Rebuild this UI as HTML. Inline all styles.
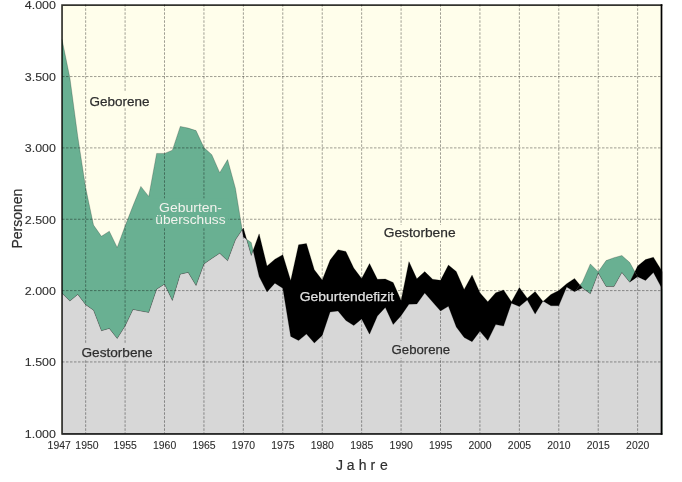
<!DOCTYPE html>
<html><head><meta charset="utf-8">
<style>
html,body{margin:0;padding:0;background:#fff;width:682px;height:482px;overflow:hidden}
svg{display:block;will-change:transform}
text{font-family:"Liberation Sans",sans-serif}
</style></head>
<body>
<svg width="682" height="482" viewBox="0 0 682 482">
<defs>
<clipPath id="plot"><rect x="61.0" y="4.3" width="601.50" height="430.50"/></clipPath>
<clipPath id="underD"><polygon points="62.00,293.30 69.89,301.10 77.77,294.40 85.66,304.70 93.54,310.30 101.43,330.80 109.31,328.40 117.20,338.60 125.08,326.10 132.97,309.50 140.86,311.10 148.74,312.40 156.63,289.20 164.51,284.20 172.40,300.60 180.28,274.20 188.17,272.40 196.05,285.60 203.94,264.00 211.82,258.50 219.71,253.30 227.60,260.80 235.48,239.80 243.37,228.00 251.25,255.50 259.14,233.80 267.02,266.00 274.91,259.20 282.79,254.70 290.68,280.60 298.57,244.80 306.45,243.50 314.34,269.70 322.22,280.10 330.11,260.10 337.99,249.70 345.88,251.40 353.76,268.10 361.65,278.50 369.54,263.50 377.42,279.30 385.31,279.00 393.19,282.50 401.08,300.40 408.96,261.60 416.85,278.80 424.73,271.60 432.62,279.20 440.51,280.30 448.39,265.00 456.28,271.50 464.16,289.60 472.05,275.00 479.93,292.70 487.82,301.70 495.70,292.70 503.59,289.90 511.47,301.80 519.36,287.40 527.25,298.20 535.13,291.60 543.02,301.50 550.90,294.40 558.79,290.50 566.67,283.70 574.56,278.40 582.44,288.10 590.33,293.70 598.22,273.00 606.10,286.50 613.99,286.60 621.87,272.60 629.76,282.30 637.64,266.10 645.53,259.60 653.41,257.20 661.30,269.90 662.50,271.83 662.50,436.80 62.00,436.80"/></clipPath>
</defs>
<rect width="682" height="482" fill="#fff"/>
<g clip-path="url(#plot)">
<rect x="61.0" y="4.3" width="601.50" height="430.50" fill="#fffeeb"/>
<polygon points="62.00,39.30 69.89,77.80 77.77,136.50 85.66,187.70 93.54,225.10 101.43,236.30 109.31,231.20 117.20,247.50 125.08,226.00 132.97,205.80 140.86,186.40 148.74,196.40 156.63,153.40 164.51,153.40 172.40,150.20 180.28,126.40 188.17,128.10 196.05,130.60 203.94,147.60 211.82,154.70 219.71,172.70 227.60,159.60 235.48,188.50 243.37,237.00 251.25,242.50 259.14,276.60 267.02,291.90 274.91,283.20 282.79,288.30 290.68,336.40 298.57,340.60 306.45,334.10 314.34,343.00 322.22,335.40 330.11,312.00 337.99,311.00 345.88,320.50 353.76,325.50 361.65,319.00 369.54,334.20 377.42,316.00 385.31,307.40 393.19,324.60 401.08,315.70 408.96,304.20 416.85,304.00 424.73,293.00 432.62,302.10 440.51,311.10 448.39,306.30 456.28,327.00 464.16,337.50 472.05,341.70 479.93,331.30 487.82,340.60 495.70,324.60 503.59,326.10 511.47,303.20 519.36,306.60 527.25,300.10 535.13,314.10 543.02,301.00 550.90,305.80 558.79,305.80 566.67,287.10 574.56,291.80 582.44,282.00 590.33,263.90 598.22,271.80 606.10,260.60 613.99,257.70 621.87,255.50 629.76,262.50 637.64,276.70 645.53,280.50 653.41,272.60 661.30,287.30 662.50,289.54 662.50,436.80 62.00,436.80" fill="#69b092"/>
<polygon points="62.00,293.30 69.89,301.10 77.77,294.40 85.66,304.70 93.54,310.30 101.43,330.80 109.31,328.40 117.20,338.60 125.08,326.10 132.97,309.50 140.86,311.10 148.74,312.40 156.63,289.20 164.51,284.20 172.40,300.60 180.28,274.20 188.17,272.40 196.05,285.60 203.94,264.00 211.82,258.50 219.71,253.30 227.60,260.80 235.48,239.80 243.37,228.00 251.25,255.50 259.14,233.80 267.02,266.00 274.91,259.20 282.79,254.70 290.68,280.60 298.57,244.80 306.45,243.50 314.34,269.70 322.22,280.10 330.11,260.10 337.99,249.70 345.88,251.40 353.76,268.10 361.65,278.50 369.54,263.50 377.42,279.30 385.31,279.00 393.19,282.50 401.08,300.40 408.96,261.60 416.85,278.80 424.73,271.60 432.62,279.20 440.51,280.30 448.39,265.00 456.28,271.50 464.16,289.60 472.05,275.00 479.93,292.70 487.82,301.70 495.70,292.70 503.59,289.90 511.47,301.80 519.36,287.40 527.25,298.20 535.13,291.60 543.02,301.50 550.90,294.40 558.79,290.50 566.67,283.70 574.56,278.40 582.44,288.10 590.33,293.70 598.22,273.00 606.10,286.50 613.99,286.60 621.87,272.60 629.76,282.30 637.64,266.10 645.53,259.60 653.41,257.20 661.30,269.90 662.50,271.83 662.50,436.80 62.00,436.80" fill="#000000"/>
<polygon points="62.00,39.30 69.89,77.80 77.77,136.50 85.66,187.70 93.54,225.10 101.43,236.30 109.31,231.20 117.20,247.50 125.08,226.00 132.97,205.80 140.86,186.40 148.74,196.40 156.63,153.40 164.51,153.40 172.40,150.20 180.28,126.40 188.17,128.10 196.05,130.60 203.94,147.60 211.82,154.70 219.71,172.70 227.60,159.60 235.48,188.50 243.37,237.00 251.25,242.50 259.14,276.60 267.02,291.90 274.91,283.20 282.79,288.30 290.68,336.40 298.57,340.60 306.45,334.10 314.34,343.00 322.22,335.40 330.11,312.00 337.99,311.00 345.88,320.50 353.76,325.50 361.65,319.00 369.54,334.20 377.42,316.00 385.31,307.40 393.19,324.60 401.08,315.70 408.96,304.20 416.85,304.00 424.73,293.00 432.62,302.10 440.51,311.10 448.39,306.30 456.28,327.00 464.16,337.50 472.05,341.70 479.93,331.30 487.82,340.60 495.70,324.60 503.59,326.10 511.47,303.20 519.36,306.60 527.25,300.10 535.13,314.10 543.02,301.00 550.90,305.80 558.79,305.80 566.67,287.10 574.56,291.80 582.44,282.00 590.33,263.90 598.22,271.80 606.10,260.60 613.99,257.70 621.87,255.50 629.76,262.50 637.64,276.70 645.53,280.50 653.41,272.60 661.30,287.30 662.50,289.54 662.50,436.80 62.00,436.80" fill="#d7d7d7" clip-path="url(#underD)"/>
<polygon points="574.56,291.80 579.98,285.07 582.44,288.10" fill="#000"/><polygon points="629.76,282.30 634.89,271.75 637.64,276.70" fill="#000"/>
<polyline points="62.00,39.30 69.89,77.80 77.77,136.50 85.66,187.70 93.54,225.10 101.43,236.30 109.31,231.20 117.20,247.50 125.08,226.00 132.97,205.80 140.86,186.40 148.74,196.40 156.63,153.40 164.51,153.40 172.40,150.20 180.28,126.40 188.17,128.10 196.05,130.60 203.94,147.60 211.82,154.70 219.71,172.70 227.60,159.60 235.48,188.50 243.37,237.00 251.25,242.50 259.14,276.60 267.02,291.90 274.91,283.20 282.79,288.30 290.68,336.40 298.57,340.60 306.45,334.10 314.34,343.00 322.22,335.40 330.11,312.00 337.99,311.00 345.88,320.50 353.76,325.50 361.65,319.00 369.54,334.20 377.42,316.00 385.31,307.40 393.19,324.60 401.08,315.70 408.96,304.20 416.85,304.00 424.73,293.00 432.62,302.10 440.51,311.10 448.39,306.30 456.28,327.00 464.16,337.50 472.05,341.70 479.93,331.30 487.82,340.60 495.70,324.60 503.59,326.10 511.47,303.20 519.36,306.60 527.25,300.10 535.13,314.10 543.02,301.00 550.90,305.80 558.79,305.80 566.67,287.10 574.56,291.80 582.44,282.00 590.33,263.90 598.22,271.80 606.10,260.60 613.99,257.70 621.87,255.50 629.76,262.50 637.64,276.70 645.53,280.50 653.41,272.60 661.30,287.30" fill="none" stroke="rgba(0,0,0,0.35)" stroke-width="0.6" stroke-linejoin="round"/>
<polyline points="62.00,293.30 69.89,301.10 77.77,294.40 85.66,304.70 93.54,310.30 101.43,330.80 109.31,328.40 117.20,338.60 125.08,326.10 132.97,309.50 140.86,311.10 148.74,312.40 156.63,289.20 164.51,284.20 172.40,300.60 180.28,274.20 188.17,272.40 196.05,285.60 203.94,264.00 211.82,258.50 219.71,253.30 227.60,260.80 235.48,239.80 243.37,228.00 251.25,255.50 259.14,233.80 267.02,266.00 274.91,259.20 282.79,254.70 290.68,280.60 298.57,244.80 306.45,243.50 314.34,269.70 322.22,280.10 330.11,260.10 337.99,249.70 345.88,251.40 353.76,268.10 361.65,278.50 369.54,263.50 377.42,279.30 385.31,279.00 393.19,282.50 401.08,300.40 408.96,261.60 416.85,278.80 424.73,271.60 432.62,279.20 440.51,280.30 448.39,265.00 456.28,271.50 464.16,289.60 472.05,275.00 479.93,292.70 487.82,301.70 495.70,292.70 503.59,289.90 511.47,301.80 519.36,287.40 527.25,298.20 535.13,291.60 543.02,301.50 550.90,294.40 558.79,290.50 566.67,283.70 574.56,278.40 582.44,288.10 590.33,293.70 598.22,273.00 606.10,286.50 613.99,286.60 621.87,272.60 629.76,282.30 637.64,266.10 645.53,259.60 653.41,257.20 661.30,269.90" fill="none" stroke="rgba(0,0,0,0.35)" stroke-width="0.6" stroke-linejoin="round"/>
<g stroke="rgba(0,0,0,0.38)" stroke-width="1" stroke-dasharray="2.5 1.5" fill="none">
<line x1="85.66" y1="4.3" x2="85.66" y2="433.30"/>
<line x1="125.08" y1="4.3" x2="125.08" y2="433.30"/>
<line x1="164.51" y1="4.3" x2="164.51" y2="433.30"/>
<line x1="203.94" y1="4.3" x2="203.94" y2="433.30"/>
<line x1="243.37" y1="4.3" x2="243.37" y2="433.30"/>
<line x1="282.79" y1="4.3" x2="282.79" y2="433.30"/>
<line x1="322.22" y1="4.3" x2="322.22" y2="433.30"/>
<line x1="361.65" y1="4.3" x2="361.65" y2="433.30"/>
<line x1="401.08" y1="4.3" x2="401.08" y2="433.30"/>
<line x1="440.51" y1="4.3" x2="440.51" y2="433.30"/>
<line x1="479.93" y1="4.3" x2="479.93" y2="433.30"/>
<line x1="519.36" y1="4.3" x2="519.36" y2="433.30"/>
<line x1="558.79" y1="4.3" x2="558.79" y2="433.30"/>
<line x1="598.22" y1="4.3" x2="598.22" y2="433.30"/>
<line x1="637.64" y1="4.3" x2="637.64" y2="433.30"/>
<line x1="62.00" y1="361.95" x2="661.30" y2="361.95"/>
<line x1="62.00" y1="290.60" x2="661.30" y2="290.60"/>
<line x1="62.00" y1="219.25" x2="661.30" y2="219.25"/>
<line x1="62.00" y1="147.90" x2="661.30" y2="147.90"/>
<line x1="62.00" y1="76.55" x2="661.30" y2="76.55"/>
</g>
<rect x="88" y="92" width="63" height="15.3" fill="#fffeeb"/>
<text x="89.6" y="105.9" font-size="13.6" fill="#2e2e2e" stroke="#2e2e2e" stroke-width="0.25" text-anchor="start" textLength="59.9" lengthAdjust="spacingAndGlyphs">Geborene</text>
<rect x="153" y="198.4" width="75.5" height="29.2" fill="#69b092"/>
<text x="190.55" y="211.7" font-size="13.6" fill="#f3f3ee" stroke="#f3f3ee" stroke-width="0.0" text-anchor="middle" textLength="62.9" lengthAdjust="spacingAndGlyphs">Geburten-</text>
<text x="190.45" y="223.8" font-size="13.6" fill="#f3f3ee" stroke="#f3f3ee" stroke-width="0.0" text-anchor="middle" textLength="70.3" lengthAdjust="spacingAndGlyphs">überschuss</text>
<rect x="381" y="225" width="78" height="16" fill="#fffeeb"/>
<text x="383.7" y="236.7" font-size="13.6" fill="#2e2e2e" stroke="#2e2e2e" stroke-width="0.25" text-anchor="start" textLength="71.9" lengthAdjust="spacingAndGlyphs">Gestorbene</text>
<text x="299.8" y="300.9" font-size="13.6" fill="#e0e0e0" stroke="#e0e0e0" stroke-width="0.25" text-anchor="start" textLength="94.3" lengthAdjust="spacingAndGlyphs">Geburtendefizit</text>
<rect x="79" y="344" width="77" height="16" fill="#d7d7d7"/>
<text x="81.5" y="356.8" font-size="13.6" fill="#2e2e2e" stroke="#2e2e2e" stroke-width="0.25" text-anchor="start" textLength="71.1" lengthAdjust="spacingAndGlyphs">Gestorbene</text>
<rect x="389" y="341" width="64" height="17" fill="#d7d7d7"/>
<text x="391.6" y="354.4" font-size="13.6" fill="#2e2e2e" stroke="#2e2e2e" stroke-width="0.25" text-anchor="start" textLength="58.6" lengthAdjust="spacingAndGlyphs">Geborene</text>
</g>
<g stroke-width="1.7" stroke-linecap="square">
<path d="M62.05,5.2 H661.5 M62.05,5.2 V433.9 H661.5" fill="none" stroke="rgba(0,0,0,0.8)"/>
<line x1="661.5" y1="5.2" x2="661.5" y2="433.9" stroke="#000"/>
</g>
<g font-size="11.0" fill="#2e2e2e" stroke="#2e2e2e" stroke-width="0.1">
<text x="55.9" y="8.80" text-anchor="end" textLength="31.1" lengthAdjust="spacingAndGlyphs">4.000</text>
<text x="55.9" y="80.95" text-anchor="end" textLength="31.1" lengthAdjust="spacingAndGlyphs">3.500</text>
<text x="55.9" y="152.30" text-anchor="end" textLength="31.1" lengthAdjust="spacingAndGlyphs">3.000</text>
<text x="55.9" y="223.65" text-anchor="end" textLength="31.1" lengthAdjust="spacingAndGlyphs">2.500</text>
<text x="55.9" y="295.00" text-anchor="end" textLength="31.1" lengthAdjust="spacingAndGlyphs">2.000</text>
<text x="55.9" y="366.35" text-anchor="end" textLength="31.1" lengthAdjust="spacingAndGlyphs">1.500</text>
<text x="55.9" y="437.70" text-anchor="end" textLength="31.1" lengthAdjust="spacingAndGlyphs">1.000</text>
</g>
<g font-size="10.4" fill="#2e2e2e" stroke="#2e2e2e" stroke-width="0.1">
<text x="86.96" y="448.9" text-anchor="middle" textLength="23.2" lengthAdjust="spacingAndGlyphs">1950</text>
<text x="125.18" y="448.9" text-anchor="middle" textLength="23.2" lengthAdjust="spacingAndGlyphs">1955</text>
<text x="164.61" y="448.9" text-anchor="middle" textLength="23.2" lengthAdjust="spacingAndGlyphs">1960</text>
<text x="204.04" y="448.9" text-anchor="middle" textLength="23.2" lengthAdjust="spacingAndGlyphs">1965</text>
<text x="243.47" y="448.9" text-anchor="middle" textLength="23.2" lengthAdjust="spacingAndGlyphs">1970</text>
<text x="282.89" y="448.9" text-anchor="middle" textLength="23.2" lengthAdjust="spacingAndGlyphs">1975</text>
<text x="322.32" y="448.9" text-anchor="middle" textLength="23.2" lengthAdjust="spacingAndGlyphs">1980</text>
<text x="361.75" y="448.9" text-anchor="middle" textLength="23.2" lengthAdjust="spacingAndGlyphs">1985</text>
<text x="401.18" y="448.9" text-anchor="middle" textLength="23.2" lengthAdjust="spacingAndGlyphs">1990</text>
<text x="440.61" y="448.9" text-anchor="middle" textLength="23.2" lengthAdjust="spacingAndGlyphs">1995</text>
<text x="480.03" y="448.9" text-anchor="middle" textLength="23.2" lengthAdjust="spacingAndGlyphs">2000</text>
<text x="519.46" y="448.9" text-anchor="middle" textLength="23.2" lengthAdjust="spacingAndGlyphs">2005</text>
<text x="558.89" y="448.9" text-anchor="middle" textLength="23.2" lengthAdjust="spacingAndGlyphs">2010</text>
<text x="598.32" y="448.9" text-anchor="middle" textLength="23.2" lengthAdjust="spacingAndGlyphs">2015</text>
<text x="637.74" y="448.9" text-anchor="middle" textLength="23.2" lengthAdjust="spacingAndGlyphs">2020</text>
<text x="59.20" y="448.9" text-anchor="middle" textLength="23.2" lengthAdjust="spacingAndGlyphs">1947</text>
</g>
<text transform="translate(21.6 218.65) rotate(-90)" font-size="14" fill="#2e2e2e" stroke="#2e2e2e" stroke-width="0.2" text-anchor="middle">Personen</text>
<text x="335.9 346.8 358.7 370.6 380.0" y="470.3" font-size="14" fill="#2e2e2e" stroke="#2e2e2e" stroke-width="0.2">Jahre</text>
</svg>
</body></html>
